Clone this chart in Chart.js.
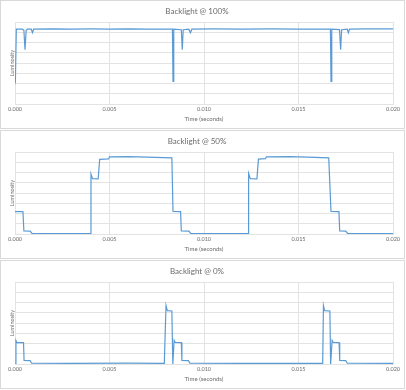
<!DOCTYPE html>
<html>
<head>
<meta charset="utf-8">
<script src="https://cdn.jsdelivr.net/npm/chart.js@4"></script>
<style>
  body { margin: 0; background: #fff; }
  .panel { position: absolute; left: 0; width: 403px; height: 127px; border: 1px solid #d9d9d9; background: #fff; }
  canvas { display: block; }
</style>
</head>
<body>
<div class="panel" style="top:0"><canvas id="c100" width="403" height="127"></canvas></div>
<div class="panel" style="top:130px"><canvas id="c50" width="403" height="127"></canvas></div>
<div class="panel" style="top:260px"><canvas id="c0" width="403" height="127"></canvas></div>
<script>
// подписи
const titles = ['Backlight @ 100%', 'Backlight @ 50%', 'Backlight @ 0%'];
const xTicks = [0, 0.005, 0.010, 0.015, 0.020];
const xTitle = 'Time (seconds)';
const yTitle = 'Luminosity';

// подсветка 100% - время и яркость
const t100 = [0, 0.00002, 0.00007, 0.0004, 0.00047, 0.00053, 0.00059, 0.00066, 0.00086, 0.00092, 0.00099,
  0.002, 0.003, 0.004, 0.005, 0.006, 0.007, 0.0083,
  0.00833, 0.00836, 0.0084, 0.0088, 0.00885, 0.0089, 0.0092, 0.00928, 0.00936,
  0.0105, 0.012, 0.0135, 0.015, 0.0166,
  0.01669, 0.01672, 0.01676, 0.01717, 0.01723, 0.01728, 0.01758, 0.01764, 0.0177, 0.0185, 0.02];
const lum100 = [2.3, 2.2, 7.3, 7.3, 7.2, 5.3, 7.2, 7.3, 7.3, 6.95, 7.3,
  7.33, 7.3, 7.32, 7.3, 7.33, 7.31, 7.3,
  7.3, 2.2, 7.3, 7.25, 5.3, 7.25, 7.3, 6.95, 7.3,
  7.32, 7.3, 7.33, 7.31, 7.3,
  7.3, 2.2, 7.3, 7.25, 5.3, 7.25, 7.3, 6.95, 7.3, 7.32, 7.33];

// подсветка 50%
const t50 = [0, 0.00042, 0.00047, 0.0008, 0.0009, 0.002, 0.003, 0.00399,
  0.00402, 0.0041, 0.0044, 0.00448, 0.00495, 0.005, 0.006, 0.007, 0.0083,
  0.00836, 0.00876, 0.0088, 0.0092, 0.0093, 0.011, 0.01233,
  0.01236, 0.01245, 0.0128, 0.01288, 0.01325, 0.0133, 0.0145, 0.0155, 0.0166,
  0.01672, 0.01714, 0.01718, 0.0175, 0.0176, 0.0185, 0.02];
const lum50 = [2.18, 2.18, 0.3, 0.28, 0.05, 0.03, 0.04, 0.03,
  5.85, 5.4, 5.37, 7.28, 7.32, 7.52, 7.54, 7.5, 7.42,
  2.2, 2.18, 0.3, 0.28, 0.05, 0.03, 0.03,
  5.9, 5.4, 5.37, 7.3, 7.35, 7.52, 7.54, 7.5, 7.42,
  2.2, 2.18, 0.3, 0.28, 0.05, 0.03, 0.03];

// подсветка 0%
const t0 = [0, 0.00005, 0.0001, 0.00045, 0.00048, 0.0008, 0.00088, 0.003, 0.006, 0.0079,
  0.00799, 0.00806, 0.0083, 0.00835, 0.00842, 0.00848, 0.0088, 0.00883, 0.00918, 0.00925, 0.012, 0.01628,
  0.01632, 0.01638, 0.01666, 0.0167, 0.01678, 0.01684, 0.01715, 0.01718, 0.0175, 0.01758, 0.02];
const lum0 = [0, 2.3, 2.1, 2.08, 0.35, 0.33, 0.08, 0.07, 0.08, 0.07,
  5.7, 5.2, 5.17, 0, 2.3, 2.1, 2.08, 0.35, 0.33, 0.08, 0.07, 0.07,
  5.7, 5.2, 5.17, 0, 2.3, 2.1, 2.08, 0.35, 0.33, 0.08, 0.07];

const GREY = '#6b6b6b';
const GRID = '#e3e3e3';
const FONT = 'Lato';

function makeChart(id, title, t, lum) {
  const pts = t.map((x, i) => ({x: x, y: lum[i]}));
  return new Chart(document.getElementById(id), {
    type: 'line',
    data: {
      datasets: [{
        data: pts,
        borderColor: '#5b9bd5',
        borderWidth: 1.2,
        pointRadius: 0,
        tension: 0,
        fill: false
      }]
    },
    options: {
      responsive: false,
      animation: false,
      layout: { padding: { left: 0, right: 11, top: 0, bottom: 0 } },
      plugins: {
        legend: { display: false },
        tooltip: { enabled: false },
        title: {
          display: true,
          text: title,
          color: GREY,
          font: { family: FONT, size: 8, weight: 'normal' },
          padding: { top: 6, bottom: 5.4 }
        }
      },
      scales: {
        x: {
          type: 'linear',
          min: 0,
          max: 0.02,
          afterFit: s => { s.height = 24; },
          afterBuildTicks: s => { s.ticks = xTicks.map(v => ({value: v})); },
          grid: { color: GRID, drawTicks: false },
          border: { color: GRID },
          ticks: {
            color: GREY,
            font: { family: FONT, size: 5.5 },
            padding: 2,
            maxRotation: 0,
            callback: v => v.toFixed(3)
          },
          title: {
            display: true,
            text: xTitle,
            color: GREY,
            font: { family: FONT, size: 6 },
            padding: { top: 0, bottom: 5 }
          }
        },
        y: {
          min: 0,
          max: 8,
          afterFit: s => { s.width = 14; },
          grid: { color: GRID, drawTicks: false },
          border: { color: GRID },
          ticks: { display: false, stepSize: 1 },
          title: {
            display: true,
            text: yTitle,
            color: GREY,
            font: { family: FONT, size: 5.5 },
            padding: { top: 8, bottom: 0 }
          }
        }
      }
    }
  });
}

makeChart('c100', titles[0], t100, lum100);
makeChart('c50', titles[1], t50, lum50);
makeChart('c0', titles[2], t0, lum0);
</script>
</body>
</html>
